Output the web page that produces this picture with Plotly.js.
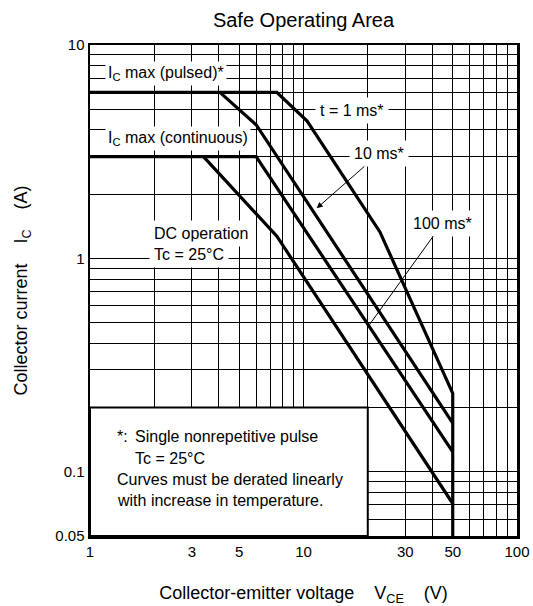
<!DOCTYPE html>
<html>
<head>
<meta charset="utf-8">
<script src="https://cdn.plot.ly/plotly-3.0.1.min.js"></script>
<style>html,body{margin:0;padding:0;background:#fff;}#chart{width:533px;height:606px;}</style>
</head>
<body>
<div id="chart"></div>
<script>
// ---- data ----
const vcePulsed1ms = [1, 7.5, 10.4, 22.8, 50, 50];
const icPulsed1ms  = [6, 6, 4.4, 1.33, 0.233, 0.05];

const vce10ms = [4.06, 6.0, 50];
const ic10ms  = [6, 4.23, 0.169];

const vceCont100ms = [1, 6.0, 50];
const icCont100ms  = [3, 3, 0.124];

const vceDC = [3.4, 7.5, 50];
const icDC  = [3, 1.27, 0.071];

// grid / tick definitions
const xGridVals = [1,2,3,4,5,6,7,8,9,10,20,30,40,50,60,70,80,90,100];
const xTickLabels = {1:'1',3:'3',5:'5',10:'10',30:'30',50:'50',100:'100'};
const yGridVals = [0.05,0.06,0.07,0.08,0.09,0.1,0.2,0.3,0.4,0.5,0.6,0.7,0.8,0.9,1,2,3,4,5,6,7,8,9,10];
const yTickLabels = {0.05:'0.05',0.1:'0.1',1:'1',10:'10'};

const NB = '\u00A0';
const FONT = 'Liberation Sans, Arial, Helvetica, sans-serif';
const L = Math.log10;

const lineStyle = {color:'#000', width:3.2};
const traces = [
  {x: vcePulsed1ms, y: icPulsed1ms, name:'t = 1 ms'},
  {x: vce10ms, y: ic10ms, name:'10 ms'},
  {x: vceCont100ms, y: icCont100ms, name:'100 ms'},
  {x: vceDC, y: icDC, name:'DC'}
].map(t => Object.assign(t, {type:'scatter', mode:'lines', line: lineStyle, hoverinfo:'skip'}));

const annFont = {family: FONT, size: 16, color:'#000'};
const txt = (text, x, y, extra) => Object.assign({
  text, x, y, xref:'x', yref:'y', showarrow:false, font: annFont,
  bgcolor:'#fff', borderpad:2
}, extra || {});
const paperTxt = (text, x, y) => ({
  text, x, y, xref:'paper', yref:'paper', xanchor:'left', yanchor:'middle',
  showarrow:false, font: annFont
});

const annotations = [
  txt('I<sub>C</sub> max (pulsed)*', L(1.176), 0.867, {xanchor:'left'}),
  txt('I<sub>C</sub> max (continuous)', L(1.176), 0.563, {xanchor:'left'}),
  txt('t = 1 ms*', 1.2257, 0.695, {borderpad:4}),
  txt('10 ms*', 1.0618, 0.2347, {ax:1.3545, ay:0.492, axref:'x', ayref:'y', showarrow:true,
      arrowhead:2, arrowsize:1.2, arrowwidth:1, arrowcolor:'#000', borderpad:4}),
  txt('100 ms*', 1.308, -0.312, {ax:1.651, ay:0.1645, axref:'x', ayref:'y', showarrow:true,
      arrowhead:0, arrowwidth:1, arrowcolor:'#000', borderpad:4}),
  txt('DC operation', 0.2763, 0.1176, {xanchor:'left', borderpad:4}),
  txt('Tc = 25°C', 0.2763, 0.016, {xanchor:'left', borderpad:4}),
  paperTxt('*:', 0.0585, 0.2022),
  paperTxt('Single nonrepetitive pulse', 0.100, 0.2022),
  paperTxt('Tc = 25°C', 0.100, 0.1582),
  paperTxt('Curves must be derated linearly', 0.0585, 0.1155),
  paperTxt('with increase in temperature.', 0.0585, 0.0733)
];

const axisCommon = {
  type:'log', showgrid:true, gridcolor:'#000', gridwidth:1,
  showline:true, linecolor:'#000', linewidth:2.5, mirror:true,
  ticks:'', zeroline:false, tickfont:{family:FONT, size:15, color:'#000'},
  fixedrange:true
};

const layout = {
  width:533, height:606,
  margin:{l:90, r:16, t:45, b:70, pad:0},
  paper_bgcolor:'#fff', plot_bgcolor:'#fff',
  font:{family:FONT, color:'#000'},
  showlegend:false,
  title:{text:'Safe Operating Area', font:{family:FONT, size:20, color:'#000'},
         x:0.5, xref:'paper', xanchor:'center', y:1-20/606, yref:'container', yanchor:'middle'},
  xaxis: Object.assign({}, axisCommon, {
    range:[0, 2],
    tickvals: xGridVals,
    ticktext: xGridVals.map(v => xTickLabels[v] || ''),
    tickangle:0,
    title:{text:'Collector-emitter voltage'+NB+NB+NB+NB+'V<sub>CE</sub>'+NB+NB+NB+NB+'(V)',
           font:{family:FONT, size:18, color:'#000'}, standoff:28}
  }),
  yaxis: Object.assign({}, axisCommon, {
    range:[L(0.05), 1],
    tickvals: yGridVals,
    ticktext: yGridVals.map(v => yTickLabels[v] || ''),
    title:{text:'Collector current'+NB+NB+NB+NB+'I<sub>C</sub>'+NB+NB+NB+NB+'(A)',
           font:{family:FONT, size:18, color:'#000'}, standoff:23}
  }),
  shapes:[
    {type:'rect', xref:'x', yref:'y', x0:1, x1:20, y0:0.05, y1:0.2,
     fillcolor:'#fff', line:{color:'#000', width:2}, layer:'between'}
  ],
  annotations
};

Plotly.newPlot('chart', traces, layout, {displayModeBar:false, staticPlot:true});
</script>
</body>
</html>
